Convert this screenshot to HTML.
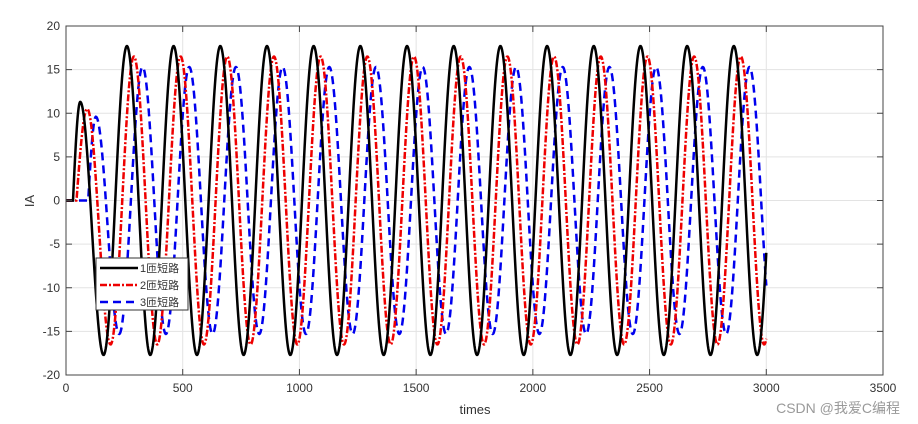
<!DOCTYPE html>
<html><head><meta charset="utf-8"><style>
body{margin:0;background:#fff;}
svg{display:block;font-family:"Liberation Sans","Noto Sans CJK SC",sans-serif;}
</style></head><body>
<svg id="s" width="918" height="424" viewBox="0 0 918 424">
<rect x="0" y="0" width="918" height="424" fill="#fff"/>
<g id="grid" stroke="#e3e3e3" stroke-width="1"></g>
<g id="data" fill="none"></g>
<rect x="66" y="26" width="817" height="349" fill="none" stroke="#444" stroke-width="1"/>
<g id="ticks" stroke="#444" stroke-width="1"></g>
<g id="lbl" fill="#333" font-size="12"></g>
<text x="475" y="414" font-size="13" fill="#333" text-anchor="middle">times</text>
<text transform="translate(34,201) rotate(-90)" font-size="13" fill="#333" text-anchor="middle">IA</text>
<g>
<rect x="96" y="258" width="92" height="52" fill="#fff" stroke="#333" stroke-width="1"/>
<line x1="100" y1="268" x2="138" y2="268" stroke="#000" stroke-width="2.5"/>
<line x1="100" y1="285" x2="138" y2="285" stroke="#e00" stroke-width="2.5" stroke-dasharray="7,2,2,2"/>
<line x1="100" y1="302" x2="138" y2="302" stroke="#00e" stroke-width="2.5" stroke-dasharray="8,5"/>
<text x="140" y="272" font-size="11" fill="#333">1匝短路</text>
<text x="140" y="289" font-size="11" fill="#333">2匝短路</text>
<text x="140" y="306" font-size="11" fill="#333">3匝短路</text>
</g>
<text x="900" y="413" font-size="14" fill="#999" text-anchor="end">CSDN @我爱C编程</text>
</svg>
<script>
var X=function(t){return 66+t*817/3500;}, Y=function(v){return 200.5-v*8.725;};
var g=document.getElementById('grid'),tk=document.getElementById('ticks'),lb=document.getElementById('lbl'),NS='http://www.w3.org/2000/svg';
function el(p,n,a,txt){var e=document.createElementNS(NS,n);for(var k in a)e.setAttribute(k,a[k]);if(txt!=null)e.textContent=txt;p.appendChild(e);return e;}
for(var t=0;t<=3500;t+=500){var x=X(t);if(t>0&&t<3500)el(g,'line',{x1:x,y1:26,x2:x,y2:375});
el(tk,'line',{x1:x,y1:375,x2:x,y2:369});el(tk,'line',{x1:x,y1:26,x2:x,y2:32});
el(lb,'text',{x:x,y:392,'text-anchor':'middle'},t);}
for(var v=-20;v<=20;v+=5){var y=Y(v);if(v>-20&&v<20)el(g,'line',{x1:66,y1:y,x2:883,y2:y});
el(tk,'line',{x1:66,y1:y,x2:72,y2:y});el(tk,'line',{x1:883,y1:y,x2:877,y2:y});
el(lb,'text',{x:60,y:y+4,'text-anchor':'end'},v);}
var w=2*Math.PI/200;
function f(t,A,tpk,t0,A1){var tp1=tpk-200,tr=tpk-100;
 if(t<t0)return 0;
 if(t<tp1)return A1*Math.sin(Math.PI/2*(t-t0)/(tp1-t0));
 if(t<tr)return A1-(A1+A)*(1-Math.cos(Math.PI*(t-tp1)/100))/2;
 return A*Math.cos(w*(t-tpk));}
function path(A,tpk,t0,A1){var d='';for(var t=0;t<=3000;t+=2){d+=(t?'L':'M')+X(t).toFixed(2)+','+Y(f(t,A,tpk,t0,A1)).toFixed(2);}return d;}
var dg=document.getElementById('data');
el(dg,'path',{d:path(15.3,328,95,9.6),stroke:'#fff',  'stroke-width':4,'stroke-dasharray':'8,5'});
el(dg,'path',{d:path(15.3,328,95,9.6),stroke:'#00e','stroke-width':2.5,'stroke-dasharray':'8,5'});
el(dg,'path',{d:path(16.5,291,45,10.5),stroke:'#e00','stroke-width':2.5,'stroke-dasharray':'7,2,2,2'});
el(dg,'path',{d:path(17.7,261,30,11.3),stroke:'#000','stroke-width':2.5});
</script>
</body></html>
